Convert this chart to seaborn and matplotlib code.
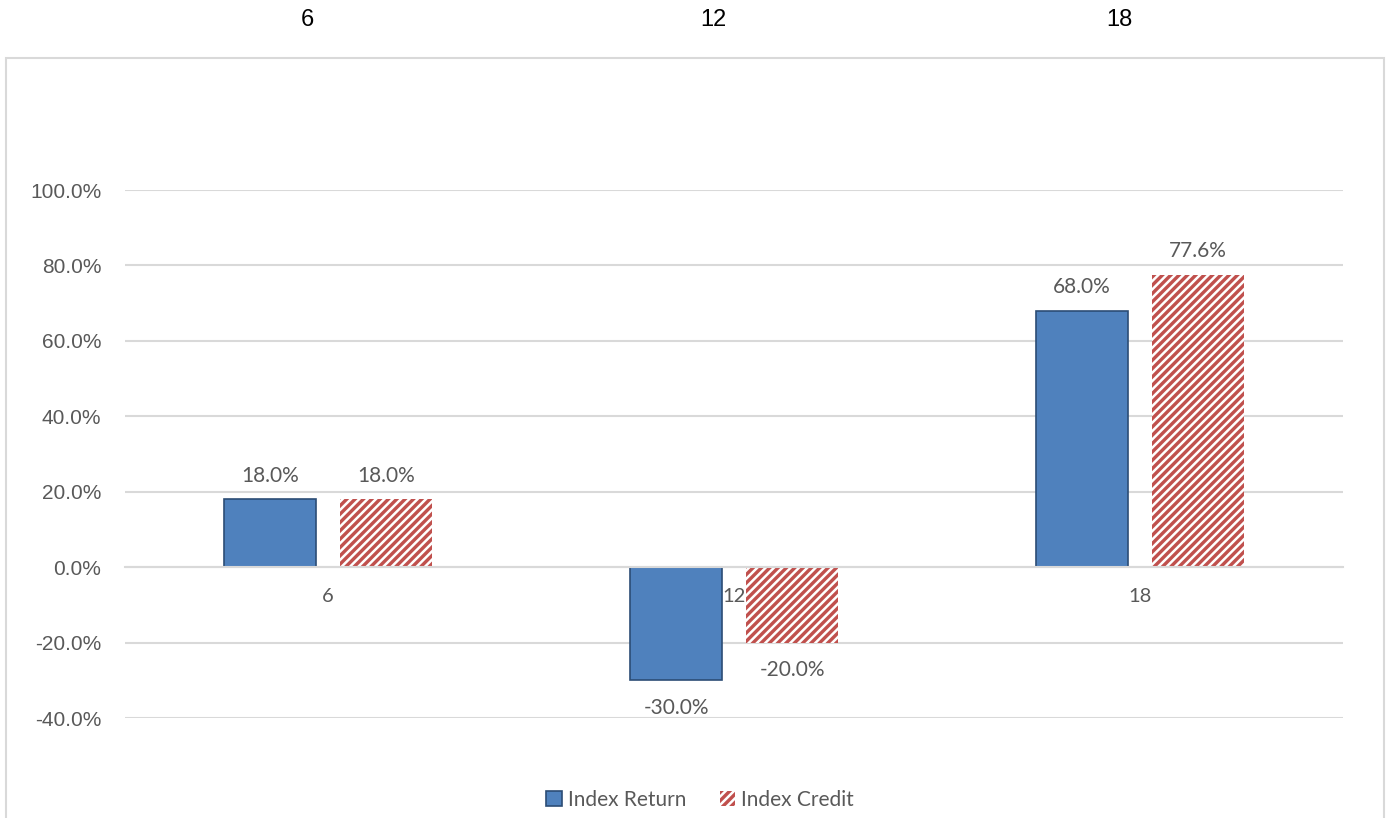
import numpy as np
import pandas as pd
import matplotlib.pyplot as plt
import matplotlib.patches as mpatches
import matplotlib.transforms as mtransforms
import seaborn as sns

categories = ["6", "12", "18"]
series_names = ["Index Return", "Index Credit"]
index_return = [18.0, -30.0, 68.0]
index_credit = [18.0, -20.0, 77.6]
y_ticks = [-40, -20, 0, 20, 40, 60, 80, 100]

blue = "#4F81BD"
red = "#C0504D"
grey_text = "#595959"
grid_col = "#D9D9D9"

df = pd.DataFrame({
    "Period": categories * 2,
    "Series": [series_names[0]] * 3 + [series_names[1]] * 3,
    "Value": index_return + index_credit,
})

sns.set_style("white")
plt.rcParams["font.family"] = ["Liberation Sans", "DejaVu Sans"]
plt.rcParams["hatch.linewidth"] = 1.8

fig = plt.figure(figsize=(13.89, 8.18), dpi=100)
ax = fig.add_axes([0.09, 0.1222, 0.877, 0.6455])

sns.barplot(data=df, x="Period", y="Value", hue="Series",
            palette=[blue, red], saturation=1, width=0.571, gap=0.207,
            legend=False, ax=ax)

for bar in ax.containers[0]:
    bar.set_edgecolor("#2C4D75")
    bar.set_linewidth(1.2)
for bar in ax.containers[1]:
    bar.set_hatch("////")
    bar.set_edgecolor("white")
    bar.set_linewidth(0)

# data labels
for cont in ax.containers:
    for bar in cont:
        v = bar.get_height()
        x = bar.get_x() + bar.get_width() / 2
        off = 17 if v >= 0 else -20
        ax.annotate(f"{v:.1f}%", (x, v), xytext=(0, off),
                    textcoords="offset points", ha="center", va="center",
                    fontsize=15, family="Lato", color=grey_text)

ax.set_xlim(-0.5, 2.5)
ax.set_ylim(-40, 100)
ax.set_yticks(y_ticks)
ax.set_yticklabels([f"{t:.1f}%" for t in y_ticks])
ax.yaxis.grid(True, color=grid_col, linewidth=1.5)
ax.set_axisbelow(True)
ax.set_xlabel("")
ax.set_ylabel("")

for s in ["top", "right", "left"]:
    ax.spines[s].set_visible(False)
ax.spines["bottom"].set_position(("data", 0))
ax.spines["bottom"].set_color(grid_col)
ax.spines["bottom"].set_linewidth(1.5)

ax.tick_params(axis="y", length=0, pad=17, labelsize=15, labelcolor=grey_text)
ax.tick_params(axis="x", length=0, pad=15, labelsize=14.5, labelcolor=grey_text)
for lbl in ax.get_xticklabels():
    lbl.set_family("Lato")

# labels above the chart box
trans = mtransforms.blended_transform_factory(ax.transData, fig.transFigure)
for i, c in enumerate(categories):
    ax.text(i - 0.05, 0.975, c, transform=trans, ha="center", va="center",
            fontsize=17, color="black", clip_on=False)

# chart border
fig.patches.append(mpatches.Rectangle((0.0043, -0.05), 0.9921, 0.979,
                                      transform=fig.transFigure, fill=False,
                                      edgecolor=grid_col, linewidth=1.5))

handles = [
    mpatches.Patch(facecolor=blue, edgecolor="#2C4D75", linewidth=1.2,
                   label=series_names[0]),
    mpatches.Patch(facecolor=red, edgecolor="white", hatch="////", linewidth=0,
                   label=series_names[1]),
]
fig.legend(handles=handles, loc="center", bbox_to_anchor=(0.504, 0.022),
           ncol=2, frameon=False, handlelength=0.75, handleheight=0.75,
           handletextpad=0.3, columnspacing=1.6,
           prop={"family": "Lato", "size": 15}, labelcolor=grey_text)

plt.savefig("out.png", dpi=100)
